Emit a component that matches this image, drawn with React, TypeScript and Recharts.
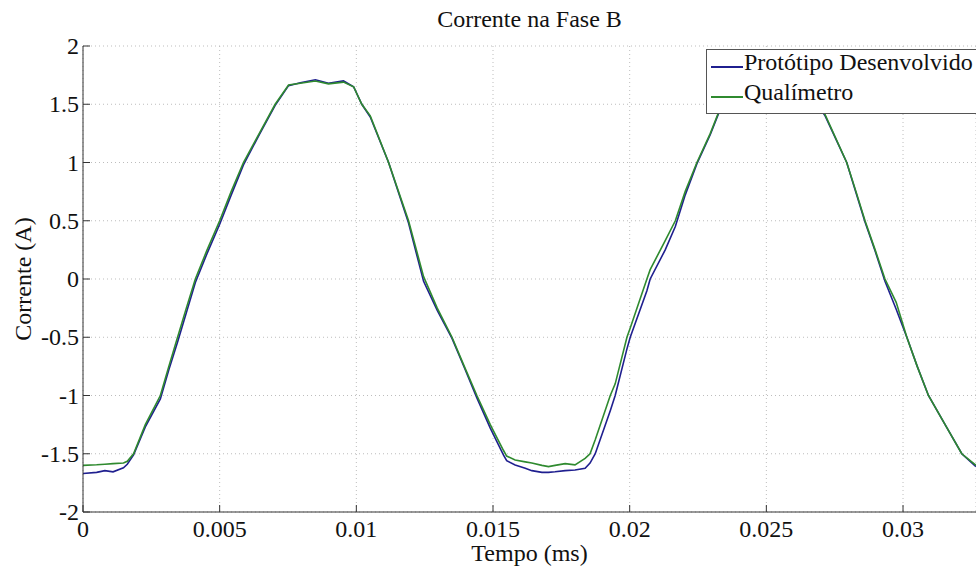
import { CartesianGrid, Legend, Line, LineChart, XAxis, YAxis } from "recharts";

// tempo (s) e correntes (A)
const tempo = [
  0, 0.0005, 0.0008, 0.0011, 0.00148, 0.00162, 0.00185, 0.00228, 0.00283, 0.00314,
  0.00346, 0.00378, 0.00411, 0.00454, 0.005, 0.00542, 0.00587, 0.00645, 0.00703, 0.00752,
  0.00795, 0.0085, 0.00898, 0.00953, 0.0099, 0.0102, 0.01051, 0.01118, 0.01191, 0.01246,
  0.01296, 0.0135, 0.01395, 0.01441, 0.0149, 0.01538, 0.0155, 0.01581, 0.01618, 0.01642,
  0.01679, 0.01703, 0.01727, 0.01764, 0.018, 0.01837, 0.01855, 0.01874, 0.01929, 0.01947,
  0.0199, 0.02002, 0.02063, 0.02075, 0.0213, 0.02167, 0.02203, 0.02246, 0.02295, 0.02337,
  0.0242, 0.0252, 0.0262, 0.02657, 0.02687, 0.02715, 0.02794, 0.02828, 0.02861, 0.02898,
  0.02934, 0.02975, 0.03014, 0.03052, 0.03093, 0.03154, 0.03215, 0.03267,
];

const prototipo = [
  -1.67, -1.66, -1.645, -1.655, -1.62, -1.59, -1.51, -1.27, -1.03, -0.78,
  -0.54, -0.29, -0.03, 0.22, 0.47, 0.72, 0.98, 1.24, 1.49, 1.66,
  1.685, 1.71, 1.68, 1.7, 1.65, 1.5, 1.39, 1.0, 0.48, -0.02,
  -0.27, -0.51, -0.76, -1.02, -1.28, -1.51, -1.56, -1.597, -1.625, -1.645,
  -1.66, -1.66, -1.655, -1.645, -1.64, -1.625, -1.58, -1.5, -1.13, -1.0,
  -0.6, -0.5, -0.1, 0.0, 0.25, 0.45, 0.72, 0.99, 1.24, 1.49,
  1.66, 1.71, 1.7, 1.65, 1.5, 1.4, 1.0, 0.74, 0.49, 0.24,
  -0.02, -0.26, -0.5, -0.75, -1.0, -1.25, -1.5, -1.61,
];

const qualimetro = [
  -1.6, -1.595, -1.59, -1.585, -1.58, -1.565, -1.5, -1.25, -1.0, -0.75,
  -0.5, -0.25, 0.0, 0.25, 0.5, 0.75, 1.0, 1.25, 1.5, 1.665,
  1.68, 1.7, 1.675, 1.69, 1.65, 1.5, 1.4, 1.0, 0.5, 0.02,
  -0.25, -0.5, -0.75, -1.0, -1.25, -1.47, -1.52, -1.553, -1.57, -1.58,
  -1.6, -1.61, -1.6, -1.585, -1.595, -1.54, -1.5, -1.38, -1.0, -0.9,
  -0.5, -0.42, 0.0, 0.08, 0.33, 0.5, 0.75, 1.0, 1.25, 1.5,
  1.665, 1.7, 1.69, 1.65, 1.5, 1.41, 1.0, 0.75, 0.5, 0.25,
  0.0, -0.2, -0.5, -0.75, -1.0, -1.25, -1.5, -1.6,
];

const xTicks = [0, 0.005, 0.01, 0.015, 0.02, 0.025, 0.03];
const yTicks = [-2, -1.5, -1, -0.5, 0, 0.5, 1, 1.5, 2];

const data = tempo.map((t, i) => ({
  t,
  prototipo: prototipo[i],
  qualimetro: qualimetro[i],
}));

const FONT = '"Liberation Serif", "Times New Roman", serif';
const AXIS = "#333";
const TEXT = "#111";

function BottomTick({ x, y, payload }: any) {
  return (
    <g>
      <line x1={x} y1={y} x2={x} y2={y - 7} stroke={AXIS} />
      <text x={x} y={y + 25} textAnchor="middle" fontFamily={FONT} fontSize={24} fill={TEXT}>
        {payload.value}
      </text>
    </g>
  );
}

function TopTick({ x, y }: any) {
  return <line x1={x} y1={y} x2={x} y2={y + 7} stroke={AXIS} />;
}

function LeftTick({ x, y, payload }: any) {
  return (
    <g>
      <line x1={x} y1={y} x2={x + 7} y2={y} stroke={AXIS} />
      <text x={x - 4} y={y + 8} textAnchor="end" fontFamily={FONT} fontSize={24} fill={TEXT}>
        {payload.value}
      </text>
    </g>
  );
}

function XTitle({ viewBox }: any) {
  return (
    <text
      x={viewBox.x + viewBox.width / 2}
      y={viewBox.y + 49}
      textAnchor="middle"
      fontFamily={FONT}
      fontSize={24}
      fill={TEXT}
    >
      Tempo (ms)
    </text>
  );
}

function YTitle({ viewBox }: any) {
  const cx = 31;
  const cy = viewBox.y + viewBox.height / 2;
  return (
    <text
      x={cx}
      y={cy}
      transform={`rotate(-90 ${cx} ${cy})`}
      textAnchor="middle"
      fontFamily={FONT}
      fontSize={24}
      fill={TEXT}
    >
      Corrente (A)
    </text>
  );
}

function LegendBox({ payload }: any) {
  return (
    <div
      style={{
        width: 300,
        border: "1px solid #555",
        background: "#fff",
        paddingBottom: 3,
        fontFamily: FONT,
        fontSize: 24,
        color: TEXT,
      }}
    >
      {(payload || []).map((p: any) => (
        <div key={p.value} style={{ display: "flex", alignItems: "flex-start", height: 30, lineHeight: "24px", whiteSpace: "nowrap" }}>
          <span
            style={{
              display: "inline-block",
              width: 32,
              marginLeft: 4,
              marginTop: 16,
              borderTop: `2px solid ${p.color}`,
            }}
          />
          <span style={{ marginLeft: 1 }}>{p.value}</span>
        </div>
      ))}
    </div>
  );
}

function App() {
  return (
    <div
      style={{
        position: "absolute",
        left: 0,
        top: 0,
        width: 976,
        height: 569,
        overflow: "hidden",
        background: "#fff",
      }}
    >
      <div
        style={{
          position: "absolute",
          left: 83,
          top: 7,
          width: 893,
          textAlign: "center",
          fontFamily: FONT,
          fontSize: 24,
          lineHeight: "24px",
          color: TEXT,
        }}
      >
        Corrente na Fase B
      </div>
      <LineChart width={976} height={569} data={data} margin={{ top: 46, right: 0, bottom: 0, left: 0 }}>
        <CartesianGrid stroke="#bdbdbd" strokeDasharray="1 3" />
        <XAxis
          dataKey="t"
          type="number"
          domain={[0, 0.03267]}
          allowDataOverflow
          ticks={xTicks}
          interval={0}
          height={57}
          tickSize={0}
          tickMargin={0}
          tickLine={false}
          axisLine={{ stroke: AXIS }}
          tick={<BottomTick />}
          label={(p: any) => <XTitle {...p} />}
        />
        <XAxis
          xAxisId="top"
          orientation="top"
          dataKey="t"
          type="number"
          domain={[0, 0.03267]}
          allowDataOverflow
          ticks={xTicks}
          interval={0}
          height={0}
          tickSize={0}
          tickMargin={0}
          tickLine={false}
          axisLine={{ stroke: AXIS }}
          tick={<TopTick />}
        />
        <YAxis
          type="number"
          domain={[-2, 2]}
          ticks={yTicks}
          interval={0}
          width={83}
          tickSize={0}
          tickMargin={0}
          tickLine={false}
          axisLine={{ stroke: AXIS }}
          tick={<LeftTick />}
          label={(p: any) => <YTitle {...p} />}
        />
        <Legend
          layout="horizontal"
          verticalAlign="middle"
          align="center"
          width={300}
          wrapperStyle={{ left: 706, top: 49, right: "auto", bottom: "auto" }}
          content={<LegendBox />}
        />
        <Line
          type="linear"
          dataKey="prototipo"
          name="Protótipo Desenvolvido"
          stroke="#1f1f8f"
          strokeWidth={1.6}
          dot={false}
          isAnimationActive={false}
        />
        <Line
          type="linear"
          dataKey="qualimetro"
          name="Qualímetro"
          stroke="#2f8a2f"
          strokeWidth={1.6}
          dot={false}
          isAnimationActive={false}
        />
      </LineChart>
    </div>
  );
}

export default App;
